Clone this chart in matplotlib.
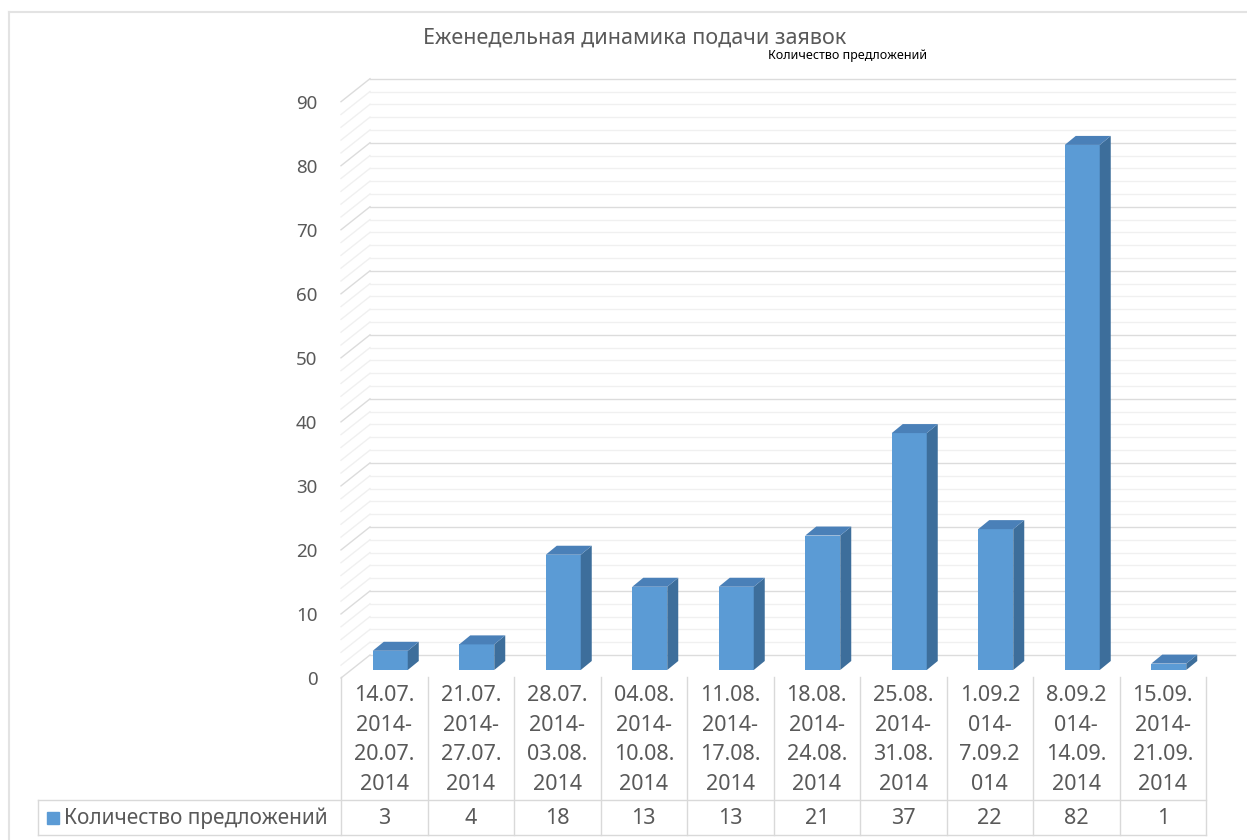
import matplotlib
matplotlib.use("Agg")
import matplotlib.pyplot as plt
from matplotlib.patches import Polygon
from matplotlib import transforms
import numpy as np

plt.rcParams['font.family'] = ['Noto Sans', 'DejaVu Sans']

# ---- data ----
title = "Еженедельная динамика подачи заявок"
series_name = "Количество предложений"
categories = [
    "14.07.\n2014-\n20.07.\n2014",
    "21.07.\n2014-\n27.07.\n2014",
    "28.07.\n2014-\n03.08.\n2014",
    "04.08.\n2014-\n10.08.\n2014",
    "11.08.\n2014-\n17.08.\n2014",
    "18.08.\n2014-\n24.08.\n2014",
    "25.08.\n2014-\n31.08.\n2014",
    "1.09.2\n014-\n7.09.2\n014",
    "8.09.2\n014-\n14.09.\n2014",
    "15.09.\n2014-\n21.09.\n2014",
]
values = [3, 4, 18, 13, 13, 21, 37, 22, 82, 1]
y_ticks = [0, 10, 20, 30, 40, 50, 60, 70, 80, 90]

# ---- style ----
W, H = 1247, 840
FRONT = "#5b9bd5"
SIDE = "#3d6e9b"
TOP = "#4a80b8"
TXT = "#595959"
GRID_MAJ = "#dcdcdc"
GRID_MIN = "#f0f0f0"
TABLE_LC = "#d9d9d9"

fig = plt.figure(figsize=(W / 100, H / 100), dpi=100)
fig.patch.set_facecolor("white")

# chart area border (left/top visible)
fig.add_artist(plt.Line2D([9 / W, 9 / W], [0, 1 - 12 / H], transform=fig.transFigure,
                          color="#e3e3e3", lw=1.5))
fig.add_artist(plt.Line2D([9 / W, 1], [1 - 12 / H, 1 - 12 / H], transform=fig.transFigure,
                          color="#e3e3e3", lw=1.5))

# main plotting axes (front plane where tick labels sit)
ax_l, ax_r, ax_t, ax_b = 341, 1206, 101.7, 678
ax = fig.add_axes([ax_l / W, (H - ax_b) / H, (ax_r - ax_l) / W, (ax_b - ax_t) / H])
n = len(values)
ax.set_xlim(-0.5, n - 0.5)
ax.set_ylim(0, 90)
for s in ax.spines.values():
    s.set_visible(False)
ax.set_xticks([])
ax.set_yticks(y_ticks)
ax.set_yticklabels([str(t) for t in y_ticks], color=TXT, fontsize=13.5)
ax.tick_params(axis="y", length=0, pad=17)
ax.patch.set_alpha(0)

px_x = (ax_r - ax_l) / n          # pixels per category
px_y = (ax_b - ax_t) / 90.0       # pixels per value unit

# back wall grid (offset in depth)
wall_dx, wall_dy = 29 / px_x, 23 / px_y
for v in range(0, 91, 2):
    col = GRID_MAJ if v % 10 == 0 else GRID_MIN
    ax.plot([-0.5, -0.5 + wall_dx], [v, v + wall_dy], color=col, lw=1.0, clip_on=False, zorder=1)
    ax.plot([-0.5 + wall_dx, n - 0.5 + wall_dx], [v + wall_dy, v + wall_dy],
            color=col, lw=1.0, clip_on=False, zorder=1)

# bars (3D-like)
bar_tr = transforms.offset_copy(ax.transData, fig=fig, x=6, y=8, units="dots")
bw = 35 / px_x
ddx, ddy = 11 / px_x, 9 / px_y
xs = np.arange(n)
ax.bar(xs, values, width=bw, color=FRONT, transform=bar_tr, zorder=3, clip_on=False)
for x, v in zip(xs, values):
    xr = x + bw / 2
    xl = x - bw / 2
    side = Polygon([(xr, 0), (xr + ddx, ddy), (xr + ddx, v + ddy), (xr, v)],
                   closed=True, facecolor=SIDE, edgecolor="none", transform=bar_tr,
                   zorder=3, clip_on=False)
    top = Polygon([(xl, v), (xr, v), (xr + ddx, v + ddy), (xl + ddx, v + ddy)],
                  closed=True, facecolor=TOP, edgecolor="none", transform=bar_tr,
                  zorder=3, clip_on=False)
    ax.add_patch(side)
    ax.add_patch(top)

# ---- data table ----
t_l, t_r, t_t, t_b = 38, 1206, 677, 835
tax = fig.add_axes([t_l / W, (H - t_b) / H, (t_r - t_l) / W, (t_b - t_t) / H])
lab_w = (ax_l - t_l) / px_x
tax.set_xlim(-0.5 - lab_w, n - 0.5)
tax.set_ylim(0, 1)
tax.axis("off")
split = (t_b - 800) / (t_b - t_t)
lc = TABLE_LC
for k in range(n + 1):
    tax.plot([k - 0.5, k - 0.5], [0, 1], color=lc, lw=1.0, clip_on=False)
tax.plot([-0.5 - lab_w, n - 0.5], [split, split], color=lc, lw=1.0, clip_on=False)
tax.plot([-0.5 - lab_w, n - 0.5], [0, 0], color=lc, lw=1.0, clip_on=False)
tax.plot([-0.5 - lab_w, -0.5 - lab_w], [0, split], color=lc, lw=1.0, clip_on=False)

for x, c, v in zip(xs, categories, values):
    tax.text(x, (t_b - 740) / (t_b - t_t), c, ha="center", va="center",
             fontsize=15.5, color=TXT, linespacing=1.55)
    tax.text(x, (t_b - 818) / (t_b - t_t), str(v), ha="center", va="center",
             fontsize=15.5, color=TXT)

sq_x = -0.5 - lab_w + 15 / px_x
tax.plot([sq_x], [(t_b - 818) / (t_b - t_t)], marker="s", markersize=8.5, color=FRONT,
         clip_on=False)
tax.text(-0.5 - lab_w + 26 / px_x, (t_b - 818) / (t_b - t_t), series_name, ha="left",
         va="center", fontsize=15, color=TXT)

# ---- titles ----
fig.text(635 / W, 1 - 38 / H, title, ha="center", va="center", fontsize=15.5, color=TXT)
fig.text(848 / W, 1 - 56 / H, series_name, ha="center", va="center", fontsize=9,
         color="black", fontweight="bold")

fig.savefig("out.png", dpi=100, facecolor="white")
